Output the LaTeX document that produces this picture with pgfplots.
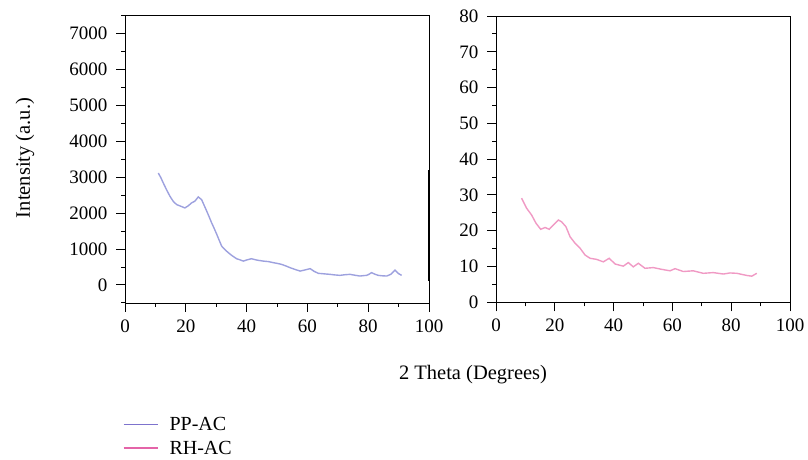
\documentclass[border=0pt]{standalone}
\usepackage{fontspec}
\setmainfont{Liberation Serif}
\usepackage{pgfplots}
\pgfplotsset{compat=1.18}
\definecolor{ppdata}{RGB}{105,110,205}
\definecolor{rhdata}{RGB}{232,100,165}
\definecolor{ppleg}{RGB}{125,115,205}
\definecolor{rhleg}{RGB}{228,100,168}
\begin{document}
\begin{tikzpicture}
\path (0pt,0pt) rectangle (808pt,460pt);
\pgfplotsset{
 panel/.style={
  scale only axis,
  anchor=south west,
  clip=false,
  axis line style={line width=0.9pt},
  tick align=outside,
  xtick pos=bottom, ytick pos=left,
  major tick length=9pt, minor tick length=4pt,
  every tick/.style={black, line width=1pt},
  xmin=0, xmax=100, xtick={0,20,...,100}, minor xtick={10,30,...,90},
  tick label style={font=\fontsize{19}{21}\selectfont},
  yticklabel style={xshift=-5pt},
  xticklabel style={yshift=-4pt},
  /pgf/number format/assume math mode=true,
  /pgf/number format/1000 sep={},
  scaled y ticks=false,
 }
}
\begin{axis}[panel,
  at={(125pt,157pt)}, width=304pt, height=288pt,
  ymin=-500, ymax=7500, ytick={0,1000,...,7000}, minor ytick={-500,500,...,7500},
  legend style={at={(axis description cs:-0.018,-0.382)}, anchor=north west,
    draw=none, fill=none, font=\fontsize{20}{22}\selectfont,
    row sep=5pt,
    /tikz/every odd column/.append style={column sep=9pt},
    legend cell align=left},
  legend image code/.code={\draw[#1, line width=1.8pt] (0pt,0pt) -- (34pt,0pt);},
]
\addplot[color=ppdata, line width=1.4pt, opacity=0.65, forget plot] coordinates {
(10.96,3110) (11.8,2980) (12.6,2833) (13.7,2640) (14.8,2463) (15.9,2320) (17.0,2233)
(18.3,2190) (19.7,2141) (20.8,2200) (21.9,2280) (23.0,2330) (24.1,2446) (25.2,2371)
(26.0,2220) (26.9,2048) (27.7,1890) (28.5,1726) (29.4,1560) (30.2,1403) (31.0,1240)
(31.8,1079) (32.9,980) (34.0,896) (35.3,810) (36.7,730) (37.8,700) (38.9,664)
(40.2,700) (41.6,730) (43.5,690) (45.5,664) (47.2,650) (48.8,620) (50.1,600)
(51.5,573) (52.9,530) (54.3,481) (56.0,430) (57.6,387) (59.3,420) (60.9,454)
(62.2,380) (63.6,324) (65.5,310) (67.4,296) (69.0,280) (70.7,268) (72.3,285)
(74.0,296) (75.7,270) (77.3,249) (78.4,260) (79.5,268) (80.3,300) (81.1,343)
(82.2,300) (83.3,268) (84.7,255) (86.1,249) (87.5,300) (88.8,415) (89.9,320) (91.0,268)
};
\addlegendimage{color=ppleg}
\addlegendentry{PP-AC}
\addlegendimage{color=rhleg}
\addlegendentry{RH-AC}
\draw[line width=2pt] (axis cs:100,3200) -- (axis cs:100,100);
\end{axis}
\begin{axis}[panel,
  at={(496pt,157.7pt)}, width=294pt, height=286.3pt,
  ymin=0, ymax=80, ytick={0,10,...,80}, minor ytick={5,15,...,75},
]
\addplot[color=rhdata, line width=1.4pt, opacity=0.65] coordinates {
(8.7,29.1) (10.4,26.3) (12.1,24.4) (13.6,22.1) (15.2,20.4) (16.7,20.9) (18.1,20.4)
(19.5,21.6) (21.2,23.0) (22.3,22.5) (23.8,21.1) (25.2,18.3) (26.9,16.5) (28.6,15.1)
(30.3,13.2) (32.0,12.3) (34.2,12.0) (36.5,11.3) (38.5,12.3) (40.5,10.7) (43.3,10.1)
(45.0,11.1) (46.7,9.9) (48.4,10.9) (50.7,9.5) (53.5,9.7) (56.4,9.2) (59.2,8.8)
(60.9,9.4) (63.7,8.6) (67.1,8.8) (70.5,8.1) (73.9,8.3) (77.3,7.9) (79.6,8.2)
(81.9,8.1) (85.3,7.5) (87.0,7.3) (88.7,8.1)
};
\end{axis}
\node[rotate=90, font=\fontsize{20.5}{22}\selectfont] at (25pt,302pt) {Intensity (a.u.)};
\node[font=\fontsize{20.5}{22}\selectfont] at (473pt,85pt) {2 Theta (Degrees)};
\end{tikzpicture}
\end{document}
